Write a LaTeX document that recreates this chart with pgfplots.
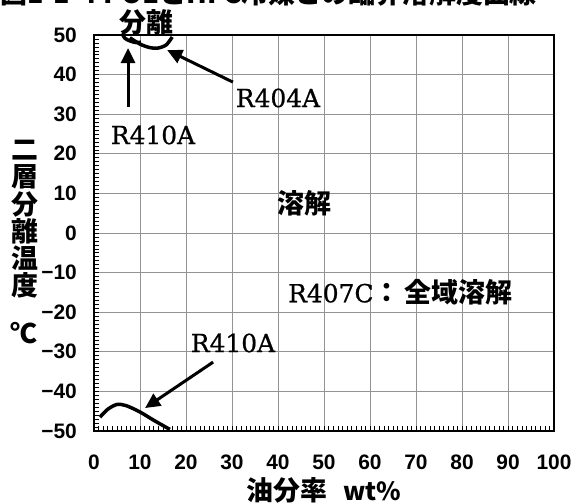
\documentclass[border=0pt]{standalone}
\usepackage{fontspec}
\setmainfont{DejaVu Serif}[FakeBold=0.8]
\newfontfamily\goth{Noto Sans CJK JP}
\newfontfamily\tickf{Liberation Sans}
\usepackage{pgfplots}
\pgfplotsset{compat=1.18}
\usetikzlibrary{arrows.meta}

\newcommand{\jfont}{\goth\bfseries\fontsize{27}{27}\selectfont}
\newcommand{\sfont}{\fontsize{25}{25}\selectfont}

\begin{document}
\begin{tikzpicture}
\begin{axis}[
  at={(0,0)}, anchor=south west,
  scale only axis, width=460bp, height=396bp,
  xmin=0, xmax=100, ymin=-50, ymax=50,
  xtick={0,10,20,30,40,50,60,70,80,90,100},
  ytick={-50,-40,-30,-20,-10,0,10,20,30,40,50},
  xticklabels={0,10,20,30,40,50,60,70,80,90,100},
  yticklabels={−50,−40,−30,−20,−10,0,10,20,30,40,50},
  minor tick num=9,
  tick pos=left,
  tick align=inside,
  major tick length=5bp, minor tick length=5bp,
  grid=major,
  major grid style={gray!85, line width=0.9bp},
  axis line style={line width=1.2bp, black},
  every tick/.style={black, line width=0.6bp},
  ticklabel style={font=\tickf\bfseries\fontsize{21}{21}\selectfont, inner sep=0pt},
  yticklabel style={anchor=east, xshift=-17bp},
  xticklabel style={anchor=north, yshift=-24bp},
  clip=false,
]
% R410A upper (separation near 50 C)
\addplot[black, line width=3.5bp, smooth] coordinates {
  (6.1,50.4) (6.7,49.2) (7.8,48.5) (9.1,48.1) (10.2,48.2)
};
% R404A
\addplot[black, line width=3.5bp, smooth] coordinates {
  (7.8,49.3) (10,47.7) (12.2,46.8) (13.9,46.7) (15.7,47.5) (17,49.5)
};
% R410A lower
\addplot[black, line width=3.5bp, smooth] coordinates {
  (1.3,-46.5) (3,-44.5) (5,-43.3) (7,-43.6) (10,-45.2) (13,-47.3) (16.5,-49.6)
};
% arrows
\draw[line width=3bp, -{Triangle[length=15bp,width=14bp]}] (axis cs:7.4,31.8) -- (axis cs:7.4,46.7);
\draw[line width=3bp, -{Triangle[length=15bp,width=14bp]}] (axis cs:30.2,38.1) -- (axis cs:15.9,46.2);
\draw[line width=3bp, -{Triangle[length=15bp,width=14bp]}] (axis cs:25.9,-32.6) -- (axis cs:11.1,-44.2);
\end{axis}
% annotation texts (coordinates in bp relative to the lower-left corner of the plot area)
\node[font=\sfont] at (59bp,296bp) {R410A};
\node[font=\sfont] at (184bp,333bp) {R404A};
\node[font=\sfont] at (139bp,88bp) {R410A};
\node[font=\jfont] at (52bp,409bp) {分離};
\node[font=\jfont] at (210bp,228bp) {溶解};
\node[anchor=west, inner sep=0pt] at (194bp,139bp) {\sfont R407C{\jfont：\,全域溶解}};
% y label
\foreach \c/\yy in {二/281, 層/254, 分/227, 離/200, 温/173, 度/146}
  \node[font=\jfont] at (-69bp,\yy bp) {\c};
\node[font=\jfont] at (-70bp,98bp) {℃};
% x label
\node[inner sep=0pt] at (230bp,-59bp) {\jfont 油分率\hspace{0.6em}{\sfont wt\%}};
% title (cut off at the top of the figure)
\node[anchor=base west, inner sep=0pt, font=\jfont] at (-94bp,427bp) {図1-1-4\ POEとHFC冷媒との臨界溶解度曲線};
\pgfresetboundingbox
\path[use as bounding box] (-94bp,-73bp) rectangle (477bp,431bp);
\end{tikzpicture}
\end{document}
